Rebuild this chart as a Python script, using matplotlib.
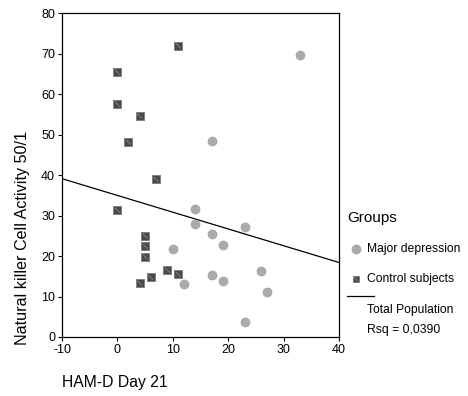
import matplotlib
matplotlib.use("Agg")
import matplotlib.pyplot as plt
import numpy as np

plt.rcParams['font.family'] = ['Liberation Sans', 'DejaVu Sans']
plt.rcParams['axes.unicode_minus'] = False

# Major depression group (HAM-D day 21, NK cell activity)
dep_x = [33, 17, 14, 14, 17, 19, 10, 17, 19, 12, 23, 26, 27, 23]
dep_y = [69.6, 48.5, 31.5, 27.9, 25.4, 22.8, 21.8, 15.2, 13.8, 13.0, 27.1, 16.3, 11.0, 3.8]

# Control subjects
ctl_x = [0, 0, 4, 2, 11, 7, 0, 5, 5, 5, 9, 11, 4, 6]
ctl_y = [65.4, 57.5, 54.6, 48.1, 71.9, 38.9, 31.3, 24.9, 22.4, 19.8, 16.5, 15.5, 13.3, 14.7]

# total population fit line
fit_intercept = 34.96
fit_slope = -0.414
rsq_label = "Rsq = 0,0390"

x_ticks = [-10, 0, 10, 20, 30, 40]
y_ticks = [0, 10, 20, 30, 40, 50, 60, 70, 80]

fig = plt.figure(figsize=(4.68, 3.96), dpi=100)
ax = fig.add_axes([0.1325, 0.149, 0.5919, 0.818])

ax.scatter(dep_x, dep_y, s=42, marker='o', facecolor='#ababab', edgecolor='#a0a0a0',
           linewidth=0.5, zorder=3)
ax.scatter(ctl_x, ctl_y, s=26, marker='s', facecolor='#4a4a4a', edgecolor='#7a7a7a',
           linewidth=0.6, zorder=3)
ax.scatter(ctl_x, ctl_y, s=12, marker=[(-0.5, 0.5), (0.5, -0.5)], facecolor='none',
           edgecolor='#8a8a8a', linewidth=0.6, zorder=4)

xs = np.array([-10, 40])
ax.plot(xs, fit_intercept + fit_slope * xs, color='black', linewidth=0.9, zorder=2)

ax.set_xlim(-10, 40)
ax.set_ylim(0, 80)
ax.set_xticks(x_ticks)
ax.set_yticks(y_ticks)
ax.tick_params(direction='out', length=3, width=0.8, labelsize=9, pad=2, colors='black')
for sp in ax.spines.values():
    sp.set_linewidth(0.9)

# SPSS puts the y title off-centre, so place it by hand
fig.text(22.5 / 468, 1 - 238 / 396, 'Natural killer Cell Activity 50/1', fontsize=11.6,
         rotation=90, ha='center', va='center')
fig.text(62 / 468, 1 - 382 / 396, 'HAM-D Day 21', fontsize=11.3, ha='left', va='center')

# legend drawn by hand like the SPSS output
fig.text(347 / 468, 1 - 218 / 396, 'Groups', fontsize=11, ha='left', va='center')
leg_ax = fig.add_axes([0, 0, 1, 1], facecolor='none')
leg_ax.set_xlim(0, 468)
leg_ax.set_ylim(396, 0)
leg_ax.axis('off')
leg_ax.scatter([355.7], [249], s=42, marker='o', facecolor='#ababab', edgecolor='#a0a0a0', linewidth=0.5)
leg_ax.scatter([355.7], [278.7], s=22, marker='s', facecolor='#4a4a4a', edgecolor='#7a7a7a', linewidth=0.6)
leg_ax.scatter([355.7], [278.7], s=10, marker=[(-0.5, 0.5), (0.5, -0.5)], facecolor='none',
               edgecolor='#8a8a8a', linewidth=0.6)
leg_ax.plot([347, 374], [296, 296], color='black', linewidth=0.9)
leg_ax.text(367, 249, 'Major depression', fontsize=8.7, ha='left', va='center')
leg_ax.text(367, 279, 'Control subjects', fontsize=8.7, ha='left', va='center')
leg_ax.text(367, 309.5, 'Total Population', fontsize=8.7, ha='left', va='center')
leg_ax.text(367, 330.5, rsq_label, fontsize=8.7, ha='left', va='center')

fig.savefig('out.png', dpi=100, facecolor='white')
